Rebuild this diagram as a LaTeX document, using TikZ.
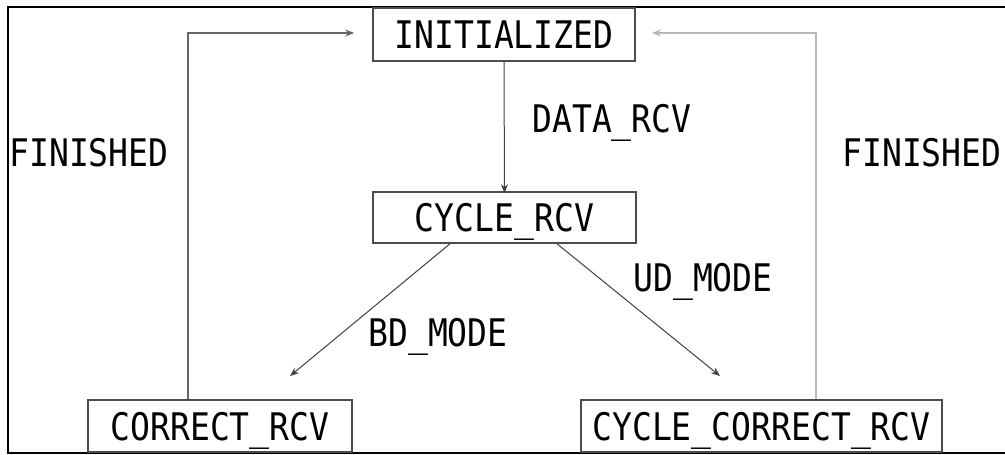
\documentclass[tikz,border=0pt]{standalone}
\usepackage{fontspec}
\setmainfont[FakeStretch=0.87]{DejaVu Sans Mono}
\usetikzlibrary{arrows.meta}
\begin{document}
\begin{tikzpicture}[x=1pt,y=-1pt,
  font=\fontsize{38}{40}\selectfont,
  state/.style={draw=black!70,line width=1.6pt,inner sep=0pt,text height=28pt,text depth=0pt,fill=white},
  lbl/.style={inner sep=0pt,text height=28pt,text depth=0pt},
  arr/.style={line width=1pt,draw=black!75,-{Stealth[length=9pt,width=7pt]}}]
\useasboundingbox (0,0) rectangle (1005,455);
\draw[line width=2pt] (1006,7) -- (8,7) -- (8,453) -- (1006,453);
\node[state,minimum width=262pt,minimum height=53pt] (init) at (504,34.5) {INITIALIZED};
\node[state,minimum width=263pt,minimum height=51pt] (cyc) at (504.5,217.5) {CYCLE\_RCV};
\node[state,minimum width=264pt,minimum height=52pt] (corr) at (220,426) {CORRECT\_RCV};
\node[state,minimum width=361pt,minimum height=52pt] (ccorr) at (761.5,426) {CYCLE\_CORRECT\_RCV};
\coordinate (lt) at (188,33);
\coordinate (rt) at (816,33);
\coordinate (bdend) at (290,376);
\coordinate (udend) at (720,376);
\draw[arr,draw=black!60,line width=1.5pt] (corr.north -| lt) -- (lt) -- ([xshift=-18pt]init.west |- lt);
\draw[arr,draw=black!28,line width=1.8pt] (ccorr.north -| rt) -- (rt) -- ([xshift=16pt]init.east |- rt);
\draw[arr] (init.south) -- ([yshift=-2pt]cyc.north);
\draw[arr] (cyc.south -| 450,0) -- (bdend);
\draw[arr] (cyc.south -| 557,0) -- (udend);
\node[lbl] (fl) at (89,152) {FINISHED};
\node[lbl] (fr) at (922,152) {FINISHED};
\node[lbl] (dr) at (612,118) {DATA\_RCV};
\node[lbl] (bd) at (438,332) {BD\_MODE};
\node[lbl] (ud) at (703,277) {UD\_MODE};
\end{tikzpicture}
\end{document}
